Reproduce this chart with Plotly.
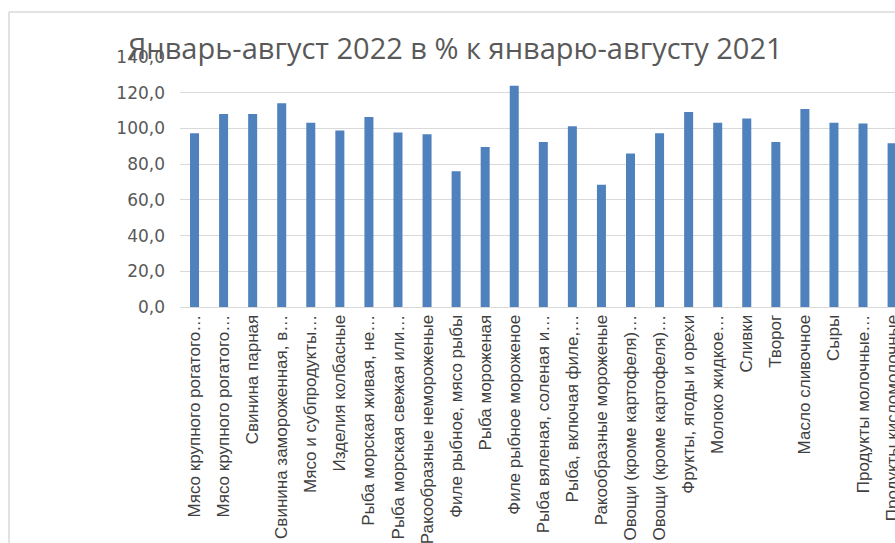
import plotly.graph_objects as go

categories = [
    "Мясо крупного рогатого…",
    "Мясо крупного рогатого…",
    "Свинина парная",
    "Свинина замороженная, в…",
    "Мясо и субпродукты…",
    "Изделия колбасные",
    "Рыба морская живая, не…",
    "Рыба морская свежая или…",
    "Ракообразные немороженые",
    "Филе рыбное, мясо рыбы",
    "Рыба мороженая",
    "Филе рыбное мороженое",
    "Рыба вяленая, соленая и…",
    "Рыба, включая филе,…",
    "Ракообразные мороженые",
    "Овощи (кроме картофеля)…",
    "Овощи (кроме картофеля)…",
    "Фрукты, ягоды и орехи",
    "Молоко жидкое…",
    "Сливки",
    "Творог",
    "Масло сливочное",
    "Сыры",
    "Продукты молочные…",
    "Продукты кисломолочные",
]
values = [97.3, 108.1, 108.1, 114.1, 103.2, 98.9, 106.4, 97.7, 96.7, 76.0,
          89.6, 123.9, 92.4, 101.2, 68.5, 85.9, 97.3, 109.2, 103.2, 105.5,
          92.4, 110.9, 103.2, 102.7, 91.7]
title_text = "Январь-август 2022 в % к январю-августу 2021"

W, H = 895, 543
# page-pixel geometry of the plot area
PL, PR, PT, PB = 180, 895, 57, 307
L, T = PL, PT
R = W - PR
B = H - PB
pw, ph = W - L - R, H - T - B

def px(x):  # page pixel -> paper x
    return (x - L) / pw

def py(y):  # page pixel -> paper y
    return (PB - y) / ph

x_idx = list(range(len(categories)))

fig = go.Figure(go.Bar(
    x=x_idx, y=values, width=0.31,
    marker=dict(color="#4F81BD", line=dict(width=0)),
))

fig.update_layout(
    width=W, height=H,
    margin=dict(l=L, r=R, t=T, b=B, autoexpand=False),
    paper_bgcolor="white", plot_bgcolor="white",
    separators=", ",
    showlegend=False,
    font=dict(family="Liberation Sans", color="#595959"),
    xaxis=dict(
        range=[-0.5, 24.1],
        tickmode="array", tickvals=x_idx, ticktext=categories,
        tickangle=-90, tickfont=dict(family="Liberation Sans", size=17, color="#404040"),
        ticklabeloverflow="allow",
        showline=True, linecolor="#D9D9D9", linewidth=1,
        showgrid=False, ticks="", zeroline=False,
    ),
    yaxis=dict(
        range=[0, 140], tickmode="linear", tick0=0, dtick=20,
        tickformat=".1f",
        tickfont=dict(family="DejaVu Sans", size=17, color="#595959"),
        ticklabelstandoff=14,
        showgrid=True, gridcolor="#D9D9D9", gridwidth=1,
        zeroline=False, showline=False, ticks="",
    ),
    shapes=[
        dict(type="line", xref="paper", yref="paper",
             x0=px(9), x1=px(900), y0=py(12), y1=py(12),
             line=dict(color="#D9D9D9", width=1.5)),
        dict(type="line", xref="paper", yref="paper",
             x0=px(9), x1=px(9), y0=py(12), y1=py(550),
             line=dict(color="#D9D9D9", width=1.5)),
    ],
    annotations=[
        dict(text=title_text, xref="paper", yref="paper",
             x=px(455), y=py(48), xanchor="center", yanchor="middle",
             showarrow=False,
             font=dict(family="Open Sans", size=29, color="#595959")),
    ],
)

fig.write_html(
    "out.html",
    config={"displayModeBar": False},
    post_script="document.body.style.margin='0';document.body.style.overflow='hidden';",
)
